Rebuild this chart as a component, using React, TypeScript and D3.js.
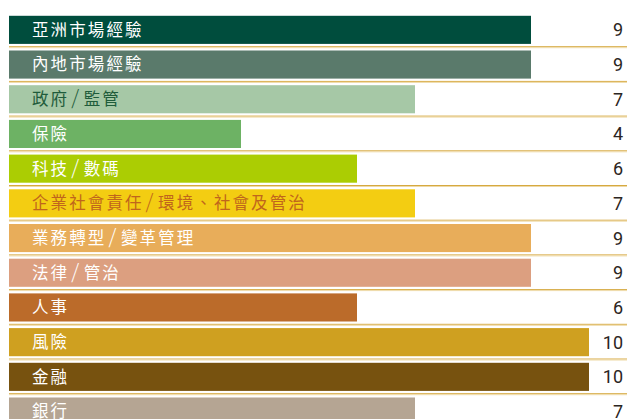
import * as React from 'react';
import * as d3 from 'd3';

const categories = [
  '亞洲市場經驗',
  '內地市場經驗',
  '政府/監管',
  '保險',
  '科技/數碼',
  '企業社會責任/環境、社會及管治',
  '業務轉型/變革管理',
  '法律/管治',
  '人事',
  '風險',
  '金融',
  '銀行',
];
const values = [9, 9, 7, 4, 6, 7, 9, 9, 6, 10, 10, 7];
const barColors = [
  '#004d3d', '#5a7a6b', '#a6c8a6', '#6db264', '#abcd03', '#f3cd12',
  '#e8ad5a', '#dc9f80', '#bb6b2a', '#cfa020', '#77520f', '#b5a593',
];
const labelColors = [
  '#ffffff', '#ffffff', '#1f5c3b', '#ffffff', '#ffffff', '#c0651c',
  '#ffffff', '#ffffff', '#ffffff', '#ffffff', '#ffffff', '#ffffff',
];

// taller, wider slash like the reference's typeset labels
function Label({ text }: { text: string }) {
  const parts = text.split('/');
  return (
    <>
      {parts.map((p, i) => (
        <React.Fragment key={i}>
          {i > 0 && (
            <tspan dx={2} fontSize={20} fontWeight={300}>
              /
            </tspan>
          )}
          <tspan dx={i > 0 ? 2.5 : 0}>{p}</tspan>
        </React.Fragment>
      ))}
    </>
  );
}

export default function App() {
  const width = 627;
  const height = 419;
  const left = 9;
  const step = 34.7;
  const top = 12.5;

  const x = d3.scaleLinear().domain([0, 10]).range([left, left + 580]);
  const y = d3
    .scaleBand()
    .domain(categories)
    .range([top, top + step * categories.length])
    .paddingInner(0.19)
    .paddingOuter(0.095);

  const font = "'Noto Sans CJK TC', 'Noto Sans', sans-serif";

  return (
    <svg
      width={width}
      height={height}
      style={{ position: 'absolute', left: 0, top: 0 }}
    >
      {categories.slice(1).map((c, i) => {
        const yy = top + step * (i + 1);
        return (
          <g key={'sep' + c}>
            <line x1={left} x2={width} y1={yy - 0.5} y2={yy - 0.5} stroke="#d6a940" strokeWidth={1} />
            <line x1={left} x2={width} y1={yy + 0.5} y2={yy + 0.5} stroke="#eed9a6" strokeWidth={1} />
          </g>
        );
      })}
      {categories.map((c, i) => {
        const by = y(c) as number;
        const cy = by + y.bandwidth() / 2;
        return (
          <g key={c}>
            <rect
              x={x(0)}
              y={by}
              width={x(values[i]) - x(0)}
              height={y.bandwidth()}
              fill={barColors[i]}
            />
            <text
              x={32}
              y={cy}
              dy="0.36em"
              fill={labelColors[i]}
              fontFamily={font}
              fontSize={16.5}
              letterSpacing={2.1}
            >
              <Label text={c} />
            </text>
            <text
              x={623}
              y={cy}
              dy="0.36em"
              textAnchor="end"
              fill="#2b2522"
              fontFamily="Roboto, 'DejaVu Sans', sans-serif"
              fontSize={18}
            >
              {values[i]}
            </text>
          </g>
        );
      })}
    </svg>
  );
}
